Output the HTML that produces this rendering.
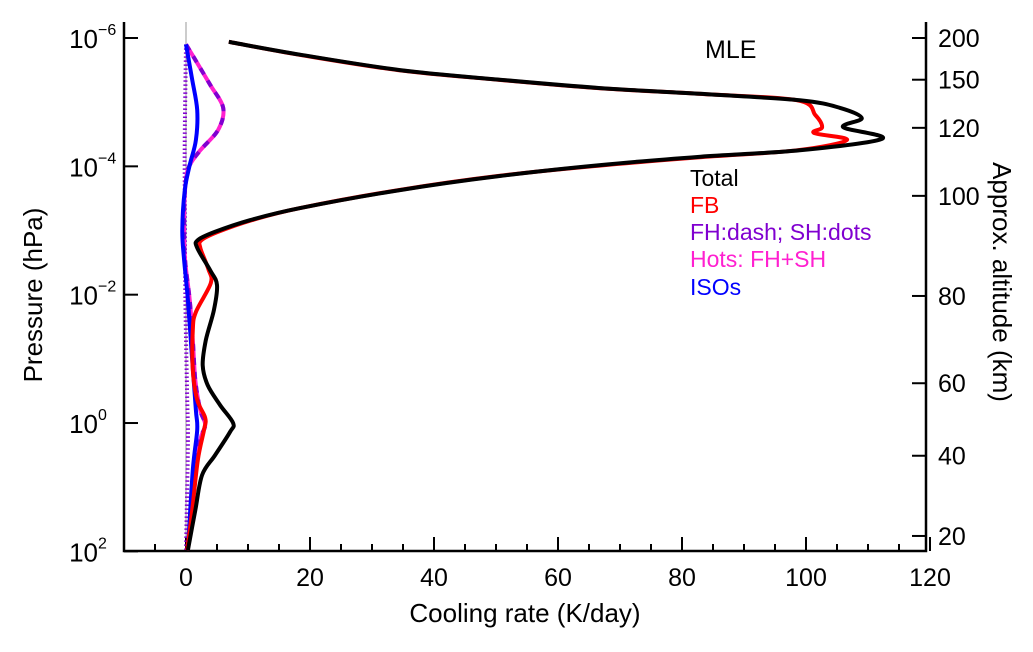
<!DOCTYPE html>
<html><head><meta charset="utf-8"><style>
body{margin:0;background:#fff;}
svg text{font-family:"Liberation Sans",sans-serif;}
</style></head><body>
<svg id="chart" width="1033" height="647" viewBox="0 0 1033 647" xmlns="http://www.w3.org/2000/svg">
<g id="axes"></g>
<g id="series"></g>
<text x="705" y="58" font-size="25">MLE</text>
<g font-size="23">
<text x="690" y="186" fill="#000">Total</text>
<text x="690" y="213" fill="#ff0000">FB</text>
<text x="690" y="240" fill="#8000d0">FH:dash; SH:dots</text>
<text x="690" y="267" fill="#ff20d0">Hots: FH+SH</text>
<text x="690" y="295" fill="#0000ff">ISOs</text>
</g>
<text x="525" y="622" font-size="26" text-anchor="middle">Cooling rate (K/day)</text>
<text transform="translate(42,295) rotate(-90)" font-size="26" text-anchor="middle">Pressure (hPa)</text>
<text transform="translate(993,282) rotate(90)" font-size="26" text-anchor="middle">Approx. altitude (km)</text>
</svg>
<script>
const xTicks=[0,20,40,60,80,100,120];
const yTickExps=[-6,-4,-2,0,2];
const altTicks=[200,150,120,100,80,60,40,20];
const altTickLogP=[-6,-5.35,-4.6,-3.54,-1.98,-0.62,0.51,1.76];
const totalV=[6.9,18.4,34.5,50.6,66.8,82.9,99,105.5,109,106,112.3,99,83,66.8,50.6,34.5,18.4,10.3,4.7,1.9,1.8,3.9,5.0,4.5,3.2,2.7,3.5,5.5,7.6,7.1,4.7,2.6,1.5,0.3];
const totalP=[-5.94,-5.74,-5.5,-5.35,-5.22,-5.13,-5.03,-4.91,-4.75,-4.61,-4.43,-4.25,-4.15,-4.02,-3.85,-3.63,-3.35,-3.16,-2.98,-2.85,-2.73,-2.38,-2.15,-1.76,-1.29,-0.9,-0.59,-0.28,0.0,0.14,0.5,0.81,1.36,1.98];
const fbV=[6.9,18.2,34.2,50.3,66.5,82.6,98.5,101.5,102.6,101.3,106.6,98.5,82.6,66.5,50.3,34.3,18.4,10.6,5.2,2.5,2.3,3.6,4.0,1.6,1.1,1.1,1.8,3.1,2.9,1.9,1.0,0.2];
const fbP=[-5.94,-5.74,-5.5,-5.35,-5.22,-5.13,-5.03,-4.8,-4.61,-4.52,-4.41,-4.25,-4.14,-4.01,-3.85,-3.63,-3.35,-3.16,-2.98,-2.85,-2.73,-2.4,-2.18,-1.73,-1.45,-0.83,-0.36,-0.08,0.11,0.58,1.36,1.98];
const hotsV=[0,1.5,3.9,6,5.2,2.3,0.6,0,-0.3,-0.2,0.6,1.1,1.5,2.3,3.1,2.3,1.3,0.3];
const hotsP=[-5.9,-5.66,-5.27,-4.91,-4.57,-4.25,-4.02,-3.79,-3.3,-2.6,-1.92,-1.29,-0.67,-0.2,0.03,0.26,0.89,1.98];
const shV=[0,-0.2,-0.2,-0.1,0.2,0.3,0];
const shP=[-5.9,-4.5,-3.48,-1.92,-0.36,0.3,1.98];
const isoV=[0,1,1.8,1.6,0.6,-0.2,-0.6,-0.3,0.3,1,1.6,1.8,1.1,0.3];
const isoP=[-5.9,-5.35,-4.88,-4.41,-4.02,-3.63,-3.0,-2.54,-1.92,-0.98,-0.2,0.11,0.73,1.98];

const NS='http://www.w3.org/2000/svg';
const X0=124,X1=926,Y0=22,Y1=551;
function sx(v){return 186+(v)*6.2;}
function sy(lp){return 38+(lp+6)*64.17;}
function mk(tag,attrs,parent){const e=document.createElementNS(NS,tag);for(const k in attrs)e.setAttribute(k,attrs[k]);parent.appendChild(e);return e;}
const ax=document.getElementById('axes');
let a=mk('line',{x1:sx(0),x2:sx(0),y1:Y0,y2:Y1,stroke:'#999','stroke-width':1},ax);


a=mk('path',{d:`M${X0},${Y0}V${Y1}H${X1}V${Y0}`,fill:'none',stroke:'#000','stroke-width':2.5},ax);


for(let v=-10;v<=120;v+=5){
  const major=v%20===0;
  const t=mk('line',{x1:sx(v),x2:sx(v),y1:Y1,y2:Y1-(major?14:7),stroke:'#000','stroke-width':2},ax);
  
  
}
xTicks.forEach(v=>{
  const t=mk('text',{x:sx(v),y:Y1+35,'font-size':25,'text-anchor':'middle'},ax);
  t.textContent=v;
  
  
});
yTickExps.forEach(e=>{
  const y=sy(e);
  const t=mk('line',{x1:X0,x2:X0+14,y1:y,y2:y,stroke:'#000','stroke-width':2},ax);
  
  
  const l=mk('text',{x:X0-26,y:y+10,'font-size':26,'text-anchor':'end'},ax);
  l.textContent='10';
  
  
  const s=mk('text',{x:X0-26,y:y-3,'font-size':16,'text-anchor':'start'},ax);
  s.textContent=e<0?'\u2212'+(-e):String(e);
  
  
});
altTicks.forEach((h,i)=>{
  const y=sy(altTickLogP[i]);
  const t=mk('line',{x1:X1-14,x2:X1,y1:y,y2:y,stroke:'#000','stroke-width':2},ax);
  
  
  const l=mk('text',{x:X1+12,y:y+9,'font-size':25},ax);
  l.textContent=h;
  
  
});
const sg=document.getElementById('series');
function smooth(pts){
  let d='M'+pts[0][0].toFixed(1)+','+pts[0][1].toFixed(1);
  for(let i=0;i<pts.length-1;i++){
    const p0=pts[Math.max(0,i-1)],p1=pts[i],p2=pts[i+1],p3=pts[Math.min(pts.length-1,i+2)];
    const c1=[p1[0]+(p2[0]-p0[0])/6,p1[1]+(p2[1]-p0[1])/6];
    const c2=[p2[0]-(p3[0]-p1[0])/6,p2[1]-(p3[1]-p1[1])/6];
    d+='C'+c1.map(n=>n.toFixed(1)).join(',')+' '+c2.map(n=>n.toFixed(1)).join(',')+' '+p2.map(n=>n.toFixed(1)).join(',');
  }
  return d;
}
function line(V,P,color,w,dash,name){
  const pts=V.map((v,i)=>[sx(v),sy(P[i])]);
  const attrs={d:smooth(pts),fill:'none',stroke:color,'stroke-width':w,'stroke-linejoin':'round'};
  if(dash)attrs['stroke-dasharray']=dash;
  const p=mk('path',attrs,sg);
  
  
}
line(shV,shP,'#8000d0',4,'1.5,2.5','sh-line');
line(hotsV,hotsP,'#ff20d0',4,null,'hots-line');
line(hotsV,hotsP,'#8000d0',4,'7,7','fh-line');
line(isoV,isoP,'#0000ff',4,null,'isos-line');
line(fbV,fbP,'#ff0000',4,null,'fb-line');
line(totalV,totalP,'#000',4,null,'total-line');
</script>
</body></html>
